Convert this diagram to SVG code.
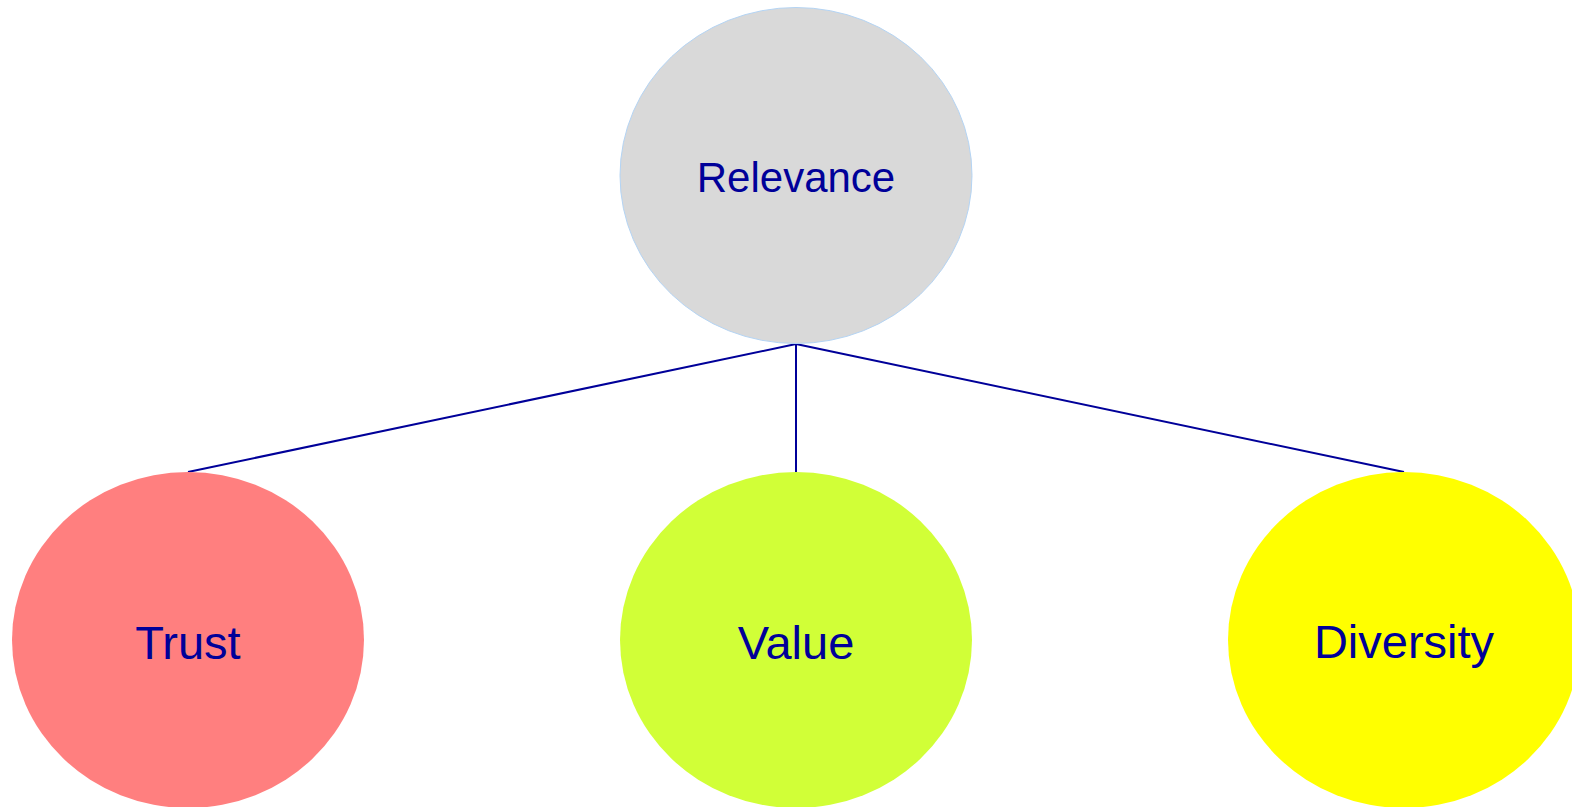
<svg xmlns="http://www.w3.org/2000/svg" width="1572" height="807" viewBox="0 0 1572 807">
<style>
.lbl{font-family:"Liberation Sans",Arial,sans-serif;font-size:42px;fill:#000099;text-anchor:middle}
.big{font-size:47px}
.edge{stroke:#000099;stroke-width:2;fill:none}
</style>
<rect width="1572" height="807" fill="#ffffff"/>
<g id="connectors">
<line class="edge" x1="796" y1="344" x2="188" y2="472"/>
<line class="edge" x1="796" y1="344" x2="796" y2="472"/>
<line class="edge" x1="796" y1="344" x2="1404" y2="472"/>
</g>
<g id="relevance">
<ellipse cx="796" cy="175.5" rx="176" ry="168" fill="#d9d9d9" stroke="#b4d4f4" stroke-width="1"/>
<text class="lbl" x="796" y="192">Relevance</text>
</g>
<g id="trust">
<ellipse cx="188" cy="640" rx="176" ry="168" fill="#ff7f7f"/>
<text class="lbl big" x="188" y="659">Trust</text>
</g>
<g id="value">
<ellipse cx="796" cy="640" rx="176" ry="168" fill="#d1ff37"/>
<text class="lbl big" x="796" y="659">Value</text>
</g>
<g id="diversity">
<ellipse cx="1404" cy="640" rx="176" ry="168" fill="#ffff00"/>
<text class="lbl big" x="1404" y="658">Diversity</text>
</g>
</svg>
